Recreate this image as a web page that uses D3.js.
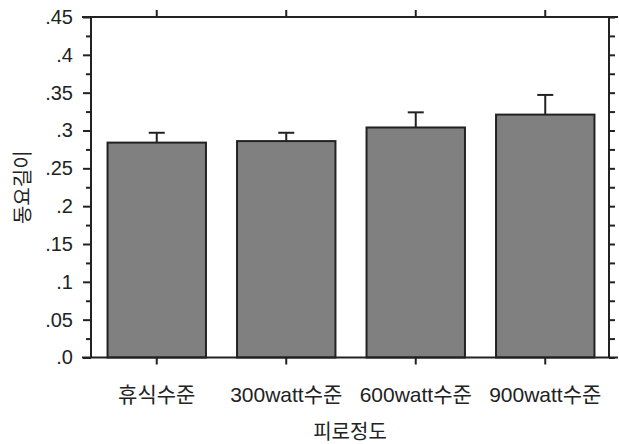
<!DOCTYPE html>
<html>
<head>
<meta charset="utf-8">
<script src="https://cdn.jsdelivr.net/npm/d3@7/dist/d3.min.js"></script>
<style>
  html, body { margin: 0; padding: 0; background: #fff; }
  svg { display: block; }
  text { font-family: "Liberation Sans", Arial, "Noto Sans CJK KR", sans-serif; fill: #222; }
</style>
</head>
<body>
<svg id="chart" width="619" height="444"></svg>
<script>
const categories = ["휴식수준", "300watt수준", "600watt수준", "900watt수준"];
const means = [0.284, 0.286, 0.304, 0.321];
const errors = [0.013, 0.011, 0.020, 0.026];
const yMajorTicks = [0, 0.05, 0.1, 0.15, 0.2, 0.25, 0.3, 0.35, 0.4, 0.45];
const yMinorTicks = [0.025, 0.075, 0.125, 0.175, 0.225, 0.275, 0.325, 0.375, 0.425];
const xTitle = "피로정도";
const yTitle = "동요길이";

const svg = d3.select("#chart");
const pLeft = 91, pRight = 609, pTop = 17, pBottom = 357.5;
const lineColor = "#222";

const x = d3.scaleBand().domain(categories).range([92, 610]).paddingInner(0.24).paddingOuter(0.12);
const y = d3.scaleLinear().domain([0, 0.45]).range([pBottom, pTop]);

const fmt = d => d === 0 ? ".0" : d3.format(".2~f")(d).replace(/^0/, "");

// bars
svg.append("g").selectAll("rect").data(means).join("rect")
  .attr("x", (d, i) => x(categories[i]))
  .attr("y", d => y(d))
  .attr("width", x.bandwidth())
  .attr("height", d => y(0) - y(d))
  .attr("fill", "#808080")
  .attr("stroke", lineColor)
  .attr("stroke-width", 2);

// error bars (upper only)
const eg = svg.append("g").attr("stroke", lineColor).attr("stroke-width", 2);
means.forEach((m, i) => {
  const cx = x(categories[i]) + x.bandwidth() / 2;
  eg.append("line").attr("x1", cx).attr("x2", cx).attr("y1", y(m)).attr("y2", y(m + errors[i]));
  eg.append("line").attr("x1", cx - 8).attr("x2", cx + 8).attr("y1", y(m + errors[i])).attr("y2", y(m + errors[i]));
});

// left axis
const la = svg.append("g").attr("transform", `translate(${pLeft},0)`)
  .call(d3.axisLeft(y).tickValues(yMajorTicks).tickSize(8).tickSizeOuter(0).tickPadding(10).tickFormat(fmt));
la.selectAll("text").attr("font-size", 20).style("font-family", '"Liberation Sans", Arial, sans-serif').attr("fill", "#222");
svg.append("g").attr("transform", `translate(${pLeft},0)`)
  .call(d3.axisLeft(y).tickValues(yMinorTicks).tickSize(5).tickSizeOuter(0).tickFormat(""));

// right axis
svg.append("g").attr("transform", `translate(${pRight},0)`)
  .call(d3.axisRight(y).tickValues(yMajorTicks.concat(yMinorTicks)).tickSize(6).tickSizeOuter(0).tickFormat(""));

// bottom axis
const ba = svg.append("g").attr("transform", `translate(0,${pBottom})`)
  .call(d3.axisBottom(x).tickSize(7).tickSizeOuter(0).tickPadding(23));
ba.selectAll("text").attr("font-size", 21).attr("fill", "#222");

// top axis
svg.append("g").attr("transform", `translate(0,${pTop})`)
  .call(d3.axisTop(x).tickSize(7).tickSizeOuter(0).tickFormat(""));

svg.selectAll(".domain").remove();
svg.selectAll(".tick line").attr("stroke", lineColor).attr("stroke-width", 2);

// frame lines
const fr = svg.append("g").attr("stroke", lineColor).attr("stroke-width", 2);
fr.append("line").attr("x1", 82).attr("x2", 618).attr("y1", pTop).attr("y2", pTop);
fr.append("line").attr("x1", 82).attr("x2", 618).attr("y1", pBottom).attr("y2", pBottom);
fr.append("line").attr("x1", pLeft).attr("x2", pLeft).attr("y1", pTop).attr("y2", pBottom);
fr.append("line").attr("x1", pRight).attr("x2", pRight).attr("y1", pTop).attr("y2", pBottom);

// titles
svg.append("text").attr("x", (pLeft + pRight) / 2).attr("y", 439).attr("text-anchor", "middle")
  .attr("font-size", 20).text(xTitle);
svg.append("text").attr("transform", `translate(30,${(pTop + pBottom) / 2}) rotate(-90)`)
  .attr("text-anchor", "middle").attr("font-size", 20).text(yTitle);
</script>
</body>
</html>
